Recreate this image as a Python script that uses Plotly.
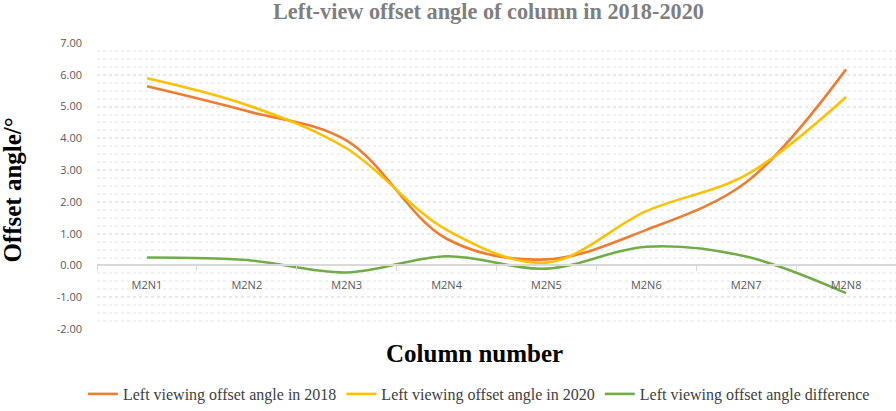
import plotly.graph_objects as go

categories = ["M2N1", "M2N2", "M2N3", "M2N4", "M2N5", "M2N6", "M2N7", "M2N8"]
angle_2018 = [5.64, 4.86, 3.93, 0.84, 0.19, 1.12, 2.62, 6.17]
angle_2020 = [5.89, 5.05, 3.68, 1.12, 0.09, 1.71, 2.85, 5.30]
angle_diff = [0.25, 0.17, -0.22, 0.29, -0.10, 0.59, 0.28, -0.87]
y_ticks = [7, 6, 5, 4, 3, 2, 1, 0, -1, -2]

series = [
    ("Left viewing offset angle in 2018", angle_2018, "#ED7D31"),
    ("Left viewing offset angle in 2020", angle_2020, "#FFC000"),
    ("Left viewing offset angle difference", angle_diff, "#70AD47"),
]

fig = go.Figure()
for name, vals, color in series:
    fig.add_trace(go.Scatter(
        x=categories, y=vals, name=name, mode="lines",
        line=dict(color=color, width=2.6, shape="spline", smoothing=1.0),
    ))

serif = "Liberation Serif, Times New Roman, serif"
sans = "Open Sans, Liberation Sans, sans-serif"
y_min, y_max = -2, 7

fig.update_layout(
    width=896, height=411,
    margin=dict(l=97, r=0, t=43, b=79),
    paper_bgcolor="white", plot_bgcolor="white",
    title=dict(text="<b>Left-view offset angle of column in 2018-2020</b>",
               font=dict(family=serif, size=22.3, color="#7F7F7F"),
               x=0.49, xref="paper", xanchor="center", y=0.973, yanchor="middle"),
    showlegend=True,
    legend=dict(orientation="h", x=0.478, xanchor="center", y=-0.228, yanchor="middle",
                font=dict(family=serif, size=16, color="#404040"),
                itemwidth=30, tracegroupgap=0),
    xaxis=dict(
        type="category", range=[-0.5, 7.5],
        anchor="free", position=(0 - y_min) / (y_max - y_min),
        showline=True, linecolor="#D9D9D9", linewidth=1.5,
        ticks="outside", tickson="boundaries", ticklen=5, tickcolor="#D9D9D9",
        showgrid=False, ticklabelstandoff=10,
        tickfont=dict(family=sans, size=11, color="#595959"),
    ),
    yaxis=dict(
        range=[y_min, y_max], tickvals=y_ticks,
        ticktext=[f"{v:.2f}" for v in y_ticks],
        showgrid=True, gridcolor="#E8E8E8", gridwidth=2, griddash="dot",
        minor=dict(dtick=0.25, showgrid=True, gridcolor="#F0F0F0", gridwidth=2, griddash="dot"),
        zeroline=False, showline=False,
        tickfont=dict(family=sans, size=11, color="#595959"),
        ticklabelstandoff=14,
    ),
    annotations=[
        dict(text="<b>Column number</b>", x=0.472, y=-0.087, xref="paper", yref="paper",
             xanchor="center", yanchor="middle", showarrow=False,
             font=dict(family=serif, size=25, color="black")),
        dict(text="<b>Offset angle/°</b>", x=-0.106, y=0.485, xref="paper", yref="paper",
             xanchor="center", yanchor="middle", showarrow=False, textangle=-90,
             font=dict(family=serif, size=25, color="black")),
    ],
)

fig.write_html("out.html", config={"displayModeBar": False},
               post_script="document.body.style.margin='0';")
